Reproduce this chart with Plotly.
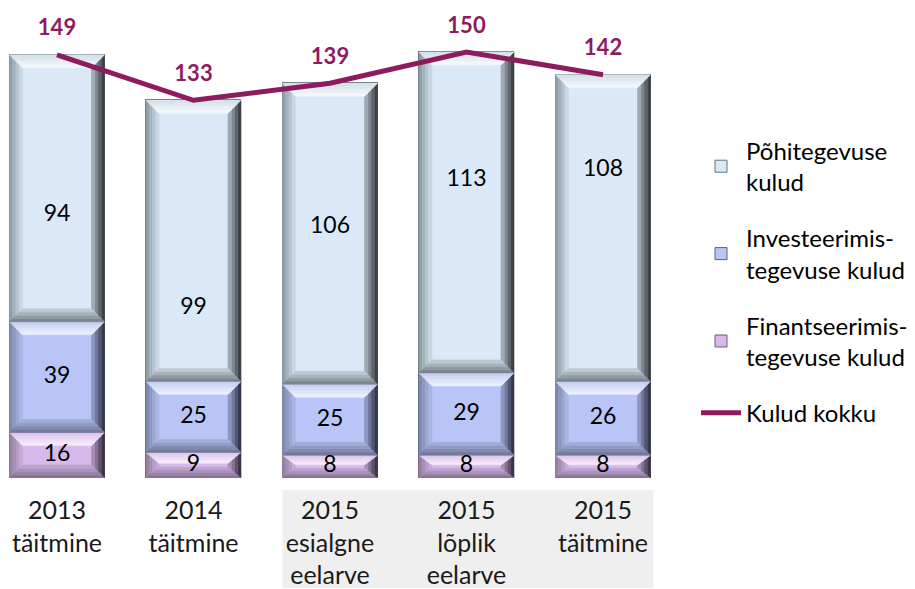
import plotly.graph_objects as go

categories = ["2013<br>täitmine", "2014<br>täitmine", "2015<br>esialgne<br>eelarve",
              "2015<br>lõplik<br>eelarve", "2015<br>täitmine"]
pohi = [94, 99, 106, 113, 108]
invest = [39, 25, 25, 29, 26]
fin = [16, 9, 8, 8, 8]
total = [149, 133, 139, 150, 142]

names = ["Põhitegevuse<br>kulud", "Investeerimis-<br>tegevuse kulud",
         "Finantseerimis-<br>tegevuse kulud", "Kulud kokku"]

# where each segment's value label sits inside its segment (0 = bottom, 1 = top)
label_frac = {
    "poh": [0.40, 0.26, 0.52, 0.60, 0.69],
    "inv": [0.5, 0.5, 0.5, 0.5, 0.5],
    "fin": [0.5, 0.5, 0.5, 0.5, 0.5],
}

FONT = "Lato"
LINE_COLOR = "#8E1B5E"

# layout geometry (page body has an 8px margin, so figure coords = target - 8)
OFF = 8
W, H = 915, 589
baseline = 478 - OFF
first_center = 57 - OFF
plot_right = 680 - OFF
ML, MT = 0, 0
MR = W - plot_right
MB = H - baseline
plot_w = plot_right - ML
plot_h = baseline - MT
spacing_px = 136.5
x0 = -first_center / spacing_px
x1 = x0 + plot_w / spacing_px
y0, y1 = 0, plot_h / 2.84
px_x = plot_w / (x1 - x0)
px_y = plot_h / (y1 - y0)
BAR_W = 0.696
BEVEL = 13
NB = 4

# series styles: face, edge, and (outer, inner) colours per bevel side
styles = {
    "fin": dict(face="#D8B9EB", edge="#6E5A7A",
                top=("#D9C3E6", "#FBEDFF"), left=("#8F7A9C", "#CDB0DF"),
                right=("#2E2434", "#B89DC9"), bottom=("#7E6B89", "#C6AAD8")),
    "inv": dict(face="#B8C5F6", edge="#5A6284",
                top=("#C3CCF0", "#EEF2FE"), left=("#7A84A8", "#B0BCEB"),
                right=("#24283A", "#9CA6D3"), bottom=("#6A7191", "#A8B4E2")),
    "poh": dict(face="#DAE8F8", edge="#66727A",
                top=("#D3DEE6", "#F6FAFE"), left=("#8796A0", "#D3E0EC"),
                right=("#2A2F34", "#B0BCC6"), bottom=("#6F7A82", "#C8D4DE")),
}


def mix(c1, c2, t):
    a = [int(c1[i:i + 2], 16) for i in (1, 3, 5)]
    b = [int(c2[i:i + 2], 16) for i in (1, 3, 5)]
    return "#" + "".join(f"{round(a[k] + (b[k] - a[k]) * t):02x}" for k in range(3))


xs = list(range(len(categories)))
fig = go.Figure()

stack = [("fin", fin, names[2], 3), ("inv", invest, names[1], 2), ("poh", pohi, names[0], 1)]
for key, vals, nm, rank in stack:
    st = styles[key]
    fig.add_trace(go.Bar(
        x=xs, y=vals, name=nm, width=BAR_W, legendrank=rank, legendgroup=key,
        marker=dict(color=st["face"], line=dict(color=st["edge"], width=1)),
        hoverinfo="y",
    ))

# bevel bands derived from the stacked values
bx = BEVEL / px_x
hw = BAR_W / 2
base = [0] * len(xs)
label_x, label_y, label_t = [], [], []
for key, vals, nm, rank in stack:
    st = styles[key]
    bands = {(side, k): ([], []) for side in ("top", "left", "right", "bottom") for k in range(NB)}
    for i, v in enumerate(vals):
        lo, hi = base[i], base[i] + v
        by = min(BEVEL / px_y, v * 0.42)
        c = xs[i]
        L, R = c - hw, c + hw
        for k in range(NB):
            f0, f1 = k / NB, (k + 1) / NB
            dx0, dx1 = bx * f0, bx * f1
            dy0, dy1 = by * f0, by * f1
            polys = {
                "top": [(L + dx0, hi - dy0), (R - dx0, hi - dy0), (R - dx1, hi - dy1), (L + dx1, hi - dy1)],
                "bottom": [(L + dx0, lo + dy0), (R - dx0, lo + dy0), (R - dx1, lo + dy1), (L + dx1, lo + dy1)],
                "left": [(L + dx0, lo + dy0), (L + dx0, hi - dy0), (L + dx1, hi - dy1), (L + dx1, lo + dy1)],
                "right": [(R - dx0, lo + dy0), (R - dx0, hi - dy0), (R - dx1, hi - dy1), (R - dx1, lo + dy1)],
            }
            for side, pts in polys.items():
                px_, py_ = bands[(side, k)]
                for (a, b) in pts + [pts[0]]:
                    px_.append(a)
                    py_.append(b)
                px_.append(None)
                py_.append(None)
        label_x.append(c)
        label_y.append(lo + v * label_frac[key][i])
        label_t.append(str(v))
        base[i] = hi
    for side in ("left", "right", "bottom", "top"):
        outer, inner = st[side]
        for k in range(NB):
            col = mix(outer, inner, (k + 0.5) / NB)
            px_, py_ = bands[(side, k)]
            fig.add_trace(go.Scatter(
                x=px_, y=py_, mode="lines", fill="toself", fillcolor=col,
                line=dict(width=0.6, color=col), showlegend=False,
                hoverinfo="skip",
            ))

# segment value labels
fig.add_trace(go.Scatter(
    x=label_x, y=label_y, mode="text", text=label_t, showlegend=False,
    textfont=dict(family=FONT, size=23, color="#000000"), hoverinfo="skip",
))

# total line
fig.add_trace(go.Scatter(
    x=xs, y=total, mode="lines", name=names[3], legendrank=4, legendgroup="tot",
    line=dict(color=LINE_COLOR, width=5),
))
fig.add_trace(go.Scatter(
    x=xs, y=[t + 25 / px_y for t in total], mode="text",
    text=[str(t) for t in total], showlegend=False, hoverinfo="skip",
    textfont=dict(family=FONT, size=22, color=LINE_COLOR, weight="bold"),
))

# gray background behind the 2015 category labels
fig.add_shape(type="rect", xref="x", yref="paper",
              x0=2 - hw, x1=4 + hw + 0.02,
              y0=-((588 - OFF) - plot_h) / plot_h, y1=-((490 - OFF) - plot_h) / plot_h,
              fillcolor="#EFEFEF", line=dict(width=0), layer="below")

fig.update_layout(
    width=W, height=H,
    margin=dict(l=ML, r=MR, t=MT, b=MB),
    barmode="stack", bargap=0,
    paper_bgcolor="white", plot_bgcolor="white",
    font=dict(family=FONT, size=24, color="#1A1A1A"),
    showlegend=True,
    legend=dict(x=(696 - OFF) / plot_w, xanchor="left", y=0.7436, yanchor="top",
                font=dict(family=FONT, size=24, color="#000000"),
                tracegroupgap=22, itemwidth=40, bgcolor="rgba(0,0,0,0)"),
    xaxis=dict(range=[x0, x1], tickmode="array", tickvals=xs, ticktext=categories,
               showgrid=False, zeroline=False, showline=False,
               ticks="outside", ticklen=10, tickcolor="rgba(0,0,0,0)",
               tickfont=dict(family=FONT, size=25, color="#1A1A1A"), fixedrange=True),
    yaxis=dict(range=[y0, y1], visible=False, fixedrange=True),
)

fig.write_html("out.html")
